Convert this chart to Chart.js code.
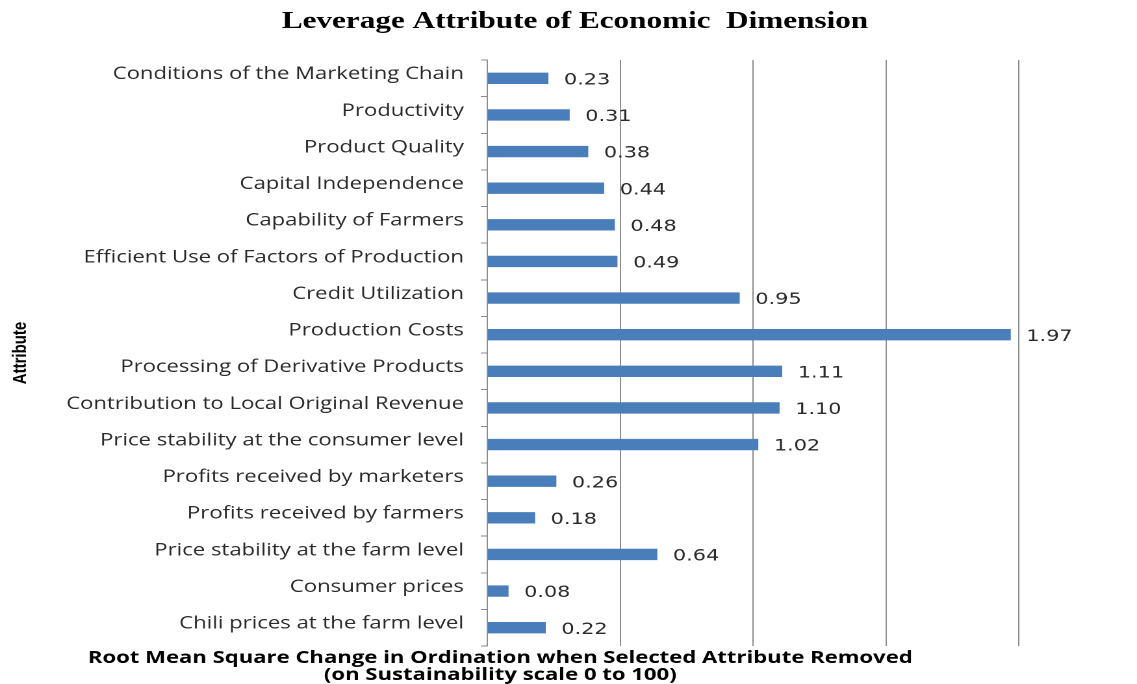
<!DOCTYPE html>
<html>
<head>
<meta charset="utf-8">
<title>Leverage Attribute of Economic Dimension</title>
<script src="https://cdn.jsdelivr.net/npm/chart.js@4/dist/chart.umd.min.js"></script>
<style>
  html, body { margin: 0; padding: 0; background: #fff; overflow: hidden; }
  /* the source picture is stretched sideways, so the chart is too */
  #wrap { width: 875px; height: 684px; transform: scaleX(1.2994); transform-origin: 0 0; }
</style>
</head>
<body>
<div id="wrap"><canvas id="leverageChart" width="875" height="684"></canvas></div>
<script>
// attributes, top to bottom as in the picture
const attributes = [
    'Conditions of the Marketing Chain',
    'Productivity',
    'Product Quality',
    'Capital Independence',
    'Capability of Farmers',
    'Efficient Use of Factors of Production',
    'Credit Utilization',
    'Production Costs',
    'Processing of Derivative Products',
    'Contribution to Local Original Revenue',
    'Price stability at the consumer level',
    'Profits received by marketers',
    'Profits received by farmers',
    'Price stability at the farm level',
    'Consumer prices',
    'Chili prices at the farm level'
];

// RMS change in ordination
const rmsValues = [0.23, 0.31, 0.38, 0.44, 0.48, 0.49, 0.95, 1.97, 1.11, 1.10, 1.02, 0.26, 0.18, 0.64, 0.08, 0.22];

// x axis range (gridlines only, no labels)
const xRange = [0, 2];
const xStep = 0.5;

const chartTitle = 'Leverage Attribute of Economic  Dimension';
const xTitleLines = [
    'Root Mean Square Change in Ordination when Selected Attribute Removed',
    '(on Sustainability scale 0 to 100)'
];

// value labels right of each bar
const valueLabels = {
    id: 'valueLabels',
    afterDatasetsDraw(chart) {
        const ctx = chart.ctx;
        const meta = chart.getDatasetMeta(0);
        ctx.save();
        ctx.font = '16px "DejaVu Sans"';
        ctx.fillStyle = '#2a2a2a';
        ctx.textAlign = 'left';
        ctx.textBaseline = 'middle';
        meta.data.forEach((bar, i) => {
            ctx.fillText(rmsValues[i].toFixed(2), bar.x + 12, bar.y + 2);
        });
        ctx.restore();
    }
};

// titles drawn by hand: the built-in title would centre on the padded box
const titles = {
    id: 'titles',
    afterDraw(chart) {
        const ctx = chart.ctx;
        const area = chart.chartArea;
        ctx.save();
        ctx.fillStyle = '#000';
        ctx.textAlign = 'center';
        ctx.textBaseline = 'middle';

        ctx.font = 'bold 24px "Liberation Serif"';
        ctx.fillText(chartTitle, chart.width / 2 + 5, 22);

        ctx.font = 'bold 17px "Open Sans"';
        xTitleLines.forEach((line, i) => {
            ctx.fillText(line, area.left + 10, area.bottom + 12 + i * 17);
        });
        ctx.restore();
    }
};

const ctx = document.getElementById('leverageChart').getContext('2d');
new Chart(ctx, {
    type: 'bar',
    data: {
        labels: attributes,
        datasets: [{
            data: rmsValues,
            backgroundColor: '#4a7ebb',
            categoryPercentage: 1,
            barPercentage: 0.31
        }]
    },
    options: {
        indexAxis: 'y',
        responsive: false,
        animation: false,
        devicePixelRatio: 2,
        layout: {
            padding: { left: 0, right: 91, top: 60, bottom: 38 }
        },
        plugins: {
            legend: { display: false },
            tooltip: { enabled: false },
            title: { display: false }
        },
        scales: {
            x: {
                min: xRange[0],
                max: xRange[1],
                ticks: { display: false, stepSize: xStep },
                grid: { color: '#8c8c8c', drawTicks: false },
                border: { display: false }
            },
            y: {
                grid: { drawOnChartArea: false, offset: true, tickLength: 5, color: '#8c8c8c' },
                border: { display: true, color: '#8c8c8c' },
                ticks: {
                    color: '#2a2a2a',
                    font: { family: '"Open Sans"', size: 17 },
                    padding: 13,
                    labelOffset: -4,
                    autoSkip: false
                },
                title: {
                    display: true,
                    text: 'Attribute',
                    color: '#000',
                    font: { family: '"Liberation Sans"', weight: 'bold', size: 15 },
                    padding: { top: 7, bottom: 0 }
                },
                afterFit(scale) {
                    scale.width = 375;
                }
            }
        }
    },
    plugins: [valueLabels, titles]
});
</script>
</body>
</html>
